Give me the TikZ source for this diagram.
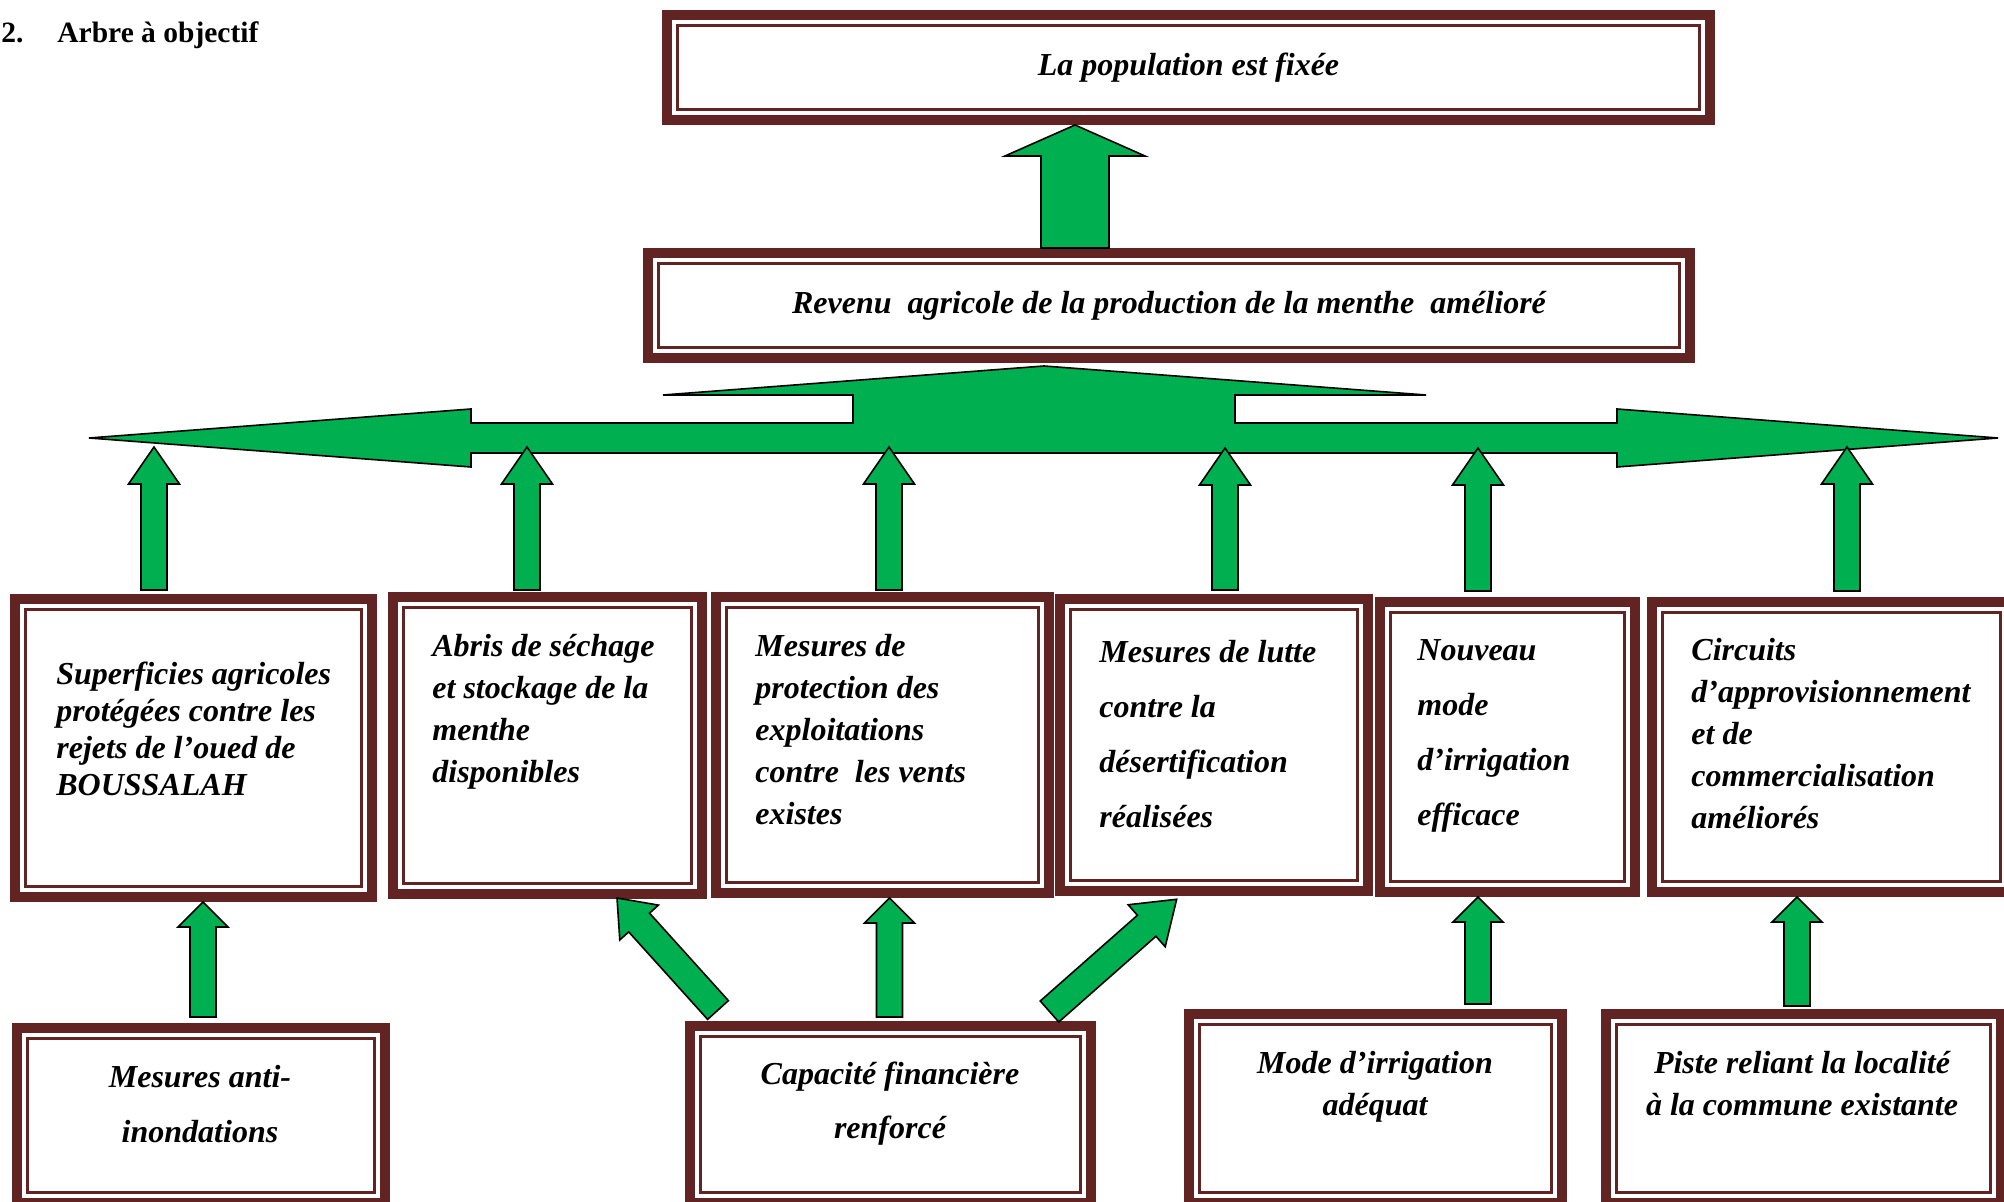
\documentclass[tikz,border=0pt]{standalone}
\usepackage{fontspec}
\setmainfont{Liberation Serif}
\usepackage{xcolor}
\usepackage{tikz}
\usetikzlibrary{calc}

\definecolor{boxred}{HTML}{622423}
\definecolor{arrgreen}{HTML}{00B050}

\tikzset{
  objbox/.style={draw=boxred, line width=5pt, fill=white, inner sep=0pt,
    font=\bfseries\itshape\fontsize{16}{19}\selectfont,
    path picture={\draw[boxred, line width=1.5pt]
      ([shift={(5.25pt,5.25pt)}]path picture bounding box.south west) rectangle
      ([shift={(-5.25pt,-5.25pt)}]path picture bounding box.north east);}},
  % anchored on the baseline of the last line
  boxtxt/.style={font=\bfseries\itshape\fontsize{16}{#1}\selectfont,
    align=left, inner sep=0pt, anchor=base west},
  boxtxt/.default=21pt,
  midtxt/.style={boxtxt=#1, align=center, anchor=base},
  midtxt/.default=21pt,
  blockarrow/.style={fill=arrgreen, draw=black, line width=0.8pt, line join=miter}
}

% block arrow: from, to, shaft half width, head half width, head length
\newcommand{\blockarr}[5]{%
  \filldraw[blockarrow] let \p1=(#1), \p2=(#2),
    \n1={veclen(\x2-\x1,\y2-\y1)}, \n2={atan2(\y2-\y1,\x2-\x1)} in
    [shift={(\p1)}, rotate=\n2]
    (0pt,-#3) -- (\n1-#5,-#3) -- (\n1-#5,-#4) -- (\n1*1pt,0pt)
    -- (\n1-#5,#4) -- (\n1-#5,#3) -- (0pt,#3) -- cycle;}

\begin{document}
\begin{tikzpicture}[x=0.5pt, y=-0.5pt]
    \useasboundingbox (0,0) rectangle (2004,1202);

    % title
    \node[anchor=base west, inner sep=0pt, font=\bfseries\fontsize{14.75}{18}\selectfont]
        (title) at (1,43) {\makebox[28pt][l]{2.}Arbre à objectif};

    % top boxes
    \node[objbox, minimum width=521.5pt, minimum height=52.5pt] (pop) at (1188.5,67.5)
        {La population est fixée};
    \node[objbox, minimum width=521pt, minimum height=52.5pt] (rev) at (1169,305.5)
        {Revenu\ \ agricole de la production de la menthe\ \ amélioré};

    % middle row
    \node[objbox, minimum width=178.5pt, minimum height=149pt] (sup) at (193.5,748) {};
    \node[objbox, minimum width=154.5pt, minimum height=148.5pt] (abri) at (547.5,745.5) {};
    \node[objbox, minimum width=166.5pt, minimum height=148pt] (prot) at (882.5,745) {};
    \node[objbox, minimum width=154pt, minimum height=146pt] (lutte) at (1214,745) {};
    \node[objbox, minimum width=127.5pt, minimum height=145pt] (irr) at (1507.5,747) {};
    \node[objbox, minimum width=179.5pt, minimum height=145pt] (circ) at (1831.5,747) {};

    \node[boxtxt=18.5pt] (suptxt) at (56,796)
        {Superficies agricoles\\protégées contre les\\rejets de l’oued de\\BOUSSALAH};
    \node[boxtxt] (abritxt) at (432,783)
        {Abris de séchage\\et stockage de la\\menthe\\disponibles};
    \node[boxtxt] (prottxt) at (755,825)
        {Mesures de\\protection des\\exploitations\\contre\ \ les vents\\existes};
    \node[boxtxt=27.5pt] (luttetxt) at (1099,828)
        {Mesures de lutte\\contre la\\désertification\\réalisées};
    \node[boxtxt=27.5pt] (irrtxt) at (1417,826)
        {Nouveau\\mode\\d’irrigation\\efficace};
    \node[boxtxt] (circtxt) at (1691,829)
        {Circuits\\d’approvisionnement\\et de\\commercialisation\\améliorés};

    % bottom row
    \node[objbox, minimum width=184pt, minimum height=87.5pt] (inond) at (201,1115.5) {};
    \node[objbox, minimum width=200.5pt, minimum height=88.5pt] (cap) at (890.5,1114.5) {};
    \node[objbox, minimum width=186.5pt, minimum height=94.5pt] (mode) at (1375.5,1108.5) {};
    \node[objbox, minimum width=197.5pt, minimum height=94.5pt] (piste) at (1803.5,1108.5) {};

    \node[midtxt=27.5pt] (inondtxt) at (200,1142) {Mesures anti-\\inondations};
    \node[midtxt=27pt] (captxt) at (890,1138) {Capacité financière\\renforcé};
    \node[midtxt] (modetxt) at (1375,1116) {Mode d’irrigation\\adéquat};
    \node[midtxt] (pistetxt) at (1802,1116) {Piste reliant la localité\\à la commune existante};

    % arrow to the top
    \coordinate (c0) at (1075,0);
    \blockarr{c0 |- rev.north}{c0 |- pop.south}{17pt}{35pt}{15.5pt}

    % double headed arrow
    \filldraw[blockarrow] (89,438) -- (471,409) -- (471,423) -- (853,423) -- (853,395)
        -- (663,395) -- (1044,366) -- (1426,395) -- (1235,395) -- (1235,423)
        -- (1617,423) -- (1617,409) -- (1998,438) -- (1617,467) -- (1617,453)
        -- (471,453) -- (471,467) -- cycle;

    \coordinate (t1) at (154,447);
    \coordinate (t2) at (527,447);
    \coordinate (t3) at (889,447);
    \coordinate (t4) at (1225,448);
    \coordinate (t5) at (1478,448);
    \coordinate (t6) at (1847,447);
    \blockarr{[yshift=2pt]t1 |- sup.north}{t1}{6.5pt}{12.75pt}{18.5pt}
    \blockarr{[yshift=1pt]t2 |- abri.north}{t2}{6.5pt}{12.75pt}{18.5pt}
    \blockarr{[yshift=1pt]t3 |- prot.north}{t3}{6.5pt}{12.75pt}{18.5pt}
    \blockarr{[yshift=2pt]t4 |- lutte.north}{t4}{6.5pt}{12.75pt}{18.5pt}
    \blockarr{[yshift=3pt]t5 |- irr.north}{t5}{6.5pt}{12.75pt}{18.5pt}
    \blockarr{[yshift=3pt]t6 |- circ.north}{t6}{6.5pt}{12.75pt}{18.5pt}

    % lower arrows
    \coordinate (u1) at (203,0);
    \coordinate (u2) at (889.5,0);
    \coordinate (u3) at (1478,0);
    \coordinate (u4) at (1797,0);
    \blockarr{[yshift=3pt]u1 |- inond.north}{u1 |- sup.south}{6.5pt}{12.5pt}{12.5pt}
    \blockarr{[yshift=2pt]u2 |- cap.north}{u2 |- prot.south}{6.5pt}{12.5pt}{12.5pt}
    \blockarr{[yshift=2.5pt]u3 |- mode.north}{u3 |- irr.south}{6.5pt}{12.5pt}{12.5pt}
    \blockarr{[yshift=1.5pt]u4 |- piste.north}{u4 |- circ.south}{6.5pt}{12.5pt}{12.5pt}
    \blockarr{[shift={(33,-11)}]cap.north west}{[shift={(229,-1)}]abri.south west}{7pt}{13pt}{16.5pt}
    \blockarr{[shift={(-46.5,-9.5)}]cap.north east}{[shift={(122,3)}]lutte.south west}{7pt}{14pt}{20pt}
\end{tikzpicture}
\end{document}
